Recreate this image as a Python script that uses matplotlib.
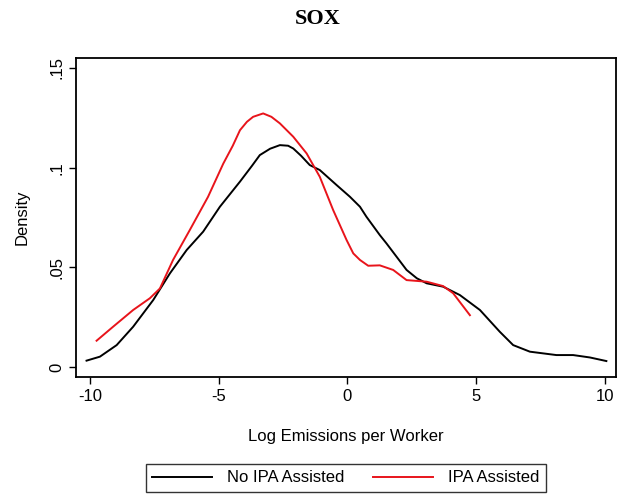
import matplotlib
matplotlib.use("Agg")
import matplotlib.pyplot as plt

# kernel density curves
no_ipa_x = [-10.13, -9.61, -8.96, -8.32, -7.54, -6.89, -6.24, -5.60, -4.95, -4.17,
            -3.70, -3.40, -3.00, -2.62, -2.30, -2.10, -1.80, -1.46, -1.07, -0.42,
            0.10, 0.49, 0.74, 1.26, 1.52, 2.30, 2.70, 3.08, 3.72, 4.37,
            5.15, 5.92, 6.44, 7.09, 8.12, 8.77, 9.42, 10.06]
no_ipa_y = [0.0032, 0.0052, 0.0110, 0.0202, 0.0336, 0.0470, 0.0587, 0.0679, 0.0804, 0.0930,
            0.1010, 0.1063, 0.1095, 0.1113, 0.1110, 0.1096, 0.1060, 0.1013, 0.0988, 0.0913,
            0.0854, 0.0804, 0.0754, 0.0662, 0.0620, 0.0487, 0.0445, 0.0420, 0.0403, 0.0361,
            0.0286, 0.0177, 0.0110, 0.0077, 0.0060, 0.0060, 0.0048, 0.0030]

ipa_x = [-9.74, -9.10, -8.32, -7.67, -7.28, -6.77, -6.12, -5.41, -4.82, -4.45,
         -4.17, -3.90, -3.66, -3.27, -2.95, -2.62, -2.10, -1.58, -1.07, -0.55,
         -0.03, 0.23, 0.49, 0.81, 1.26, 1.78, 2.30, 3.08, 3.72, 4.11, 4.76]
ipa_y = [0.0132, 0.0202, 0.0286, 0.0345, 0.0394, 0.0537, 0.0687, 0.0854, 0.1020, 0.1110,
         0.1188, 0.1230, 0.1255, 0.1272, 0.1255, 0.1222, 0.1155, 0.1071, 0.0954, 0.0787,
         0.0637, 0.0570, 0.0537, 0.0508, 0.0510, 0.0487, 0.0436, 0.0428, 0.0406, 0.0370,
         0.0260]

x_ticks = [-10, -5, 0, 5, 10]
y_ticks = [0, 0.05, 0.1, 0.15]
y_labels = ["0", ".05", ".1", ".15"]

plt.rcParams["font.family"] = ["Liberation Sans", "DejaVu Sans"]

fig = plt.figure(figsize=(6.3, 5), dpi=100)
ax = fig.add_axes([0.1206, 0.246, 0.857, 0.638])

ax.plot(no_ipa_x, no_ipa_y, color="black", lw=1.4, label="No IPA Assisted")
ax.plot(ipa_x, ipa_y, color="#e8141b", lw=1.4, label="IPA Assisted")

ax.set_xlim(-10.54, 10.43)
ax.set_ylim(-0.005, 0.155)
ax.set_xticks(x_ticks)
ax.set_xticklabels([str(t) for t in x_ticks])
ax.set_yticks(y_ticks)
ax.set_yticklabels(y_labels, rotation=90, va="center")
ax.tick_params(direction="out", length=5, width=1, labelsize=12, colors="black")
for s in ax.spines.values():
    s.set_linewidth(1.3)

ax.set_xlabel("Log Emissions per Worker", fontsize=12, labelpad=18)
ax.set_ylabel("Density", fontsize=12, labelpad=14)

fig.text(0.505, 0.963, "SOX", ha="center", va="center", fontsize=16,
         fontweight="bold", family="Liberation Serif")

leg = fig.legend(loc="center", bbox_to_anchor=(0.549, 0.044), ncol=2, fontsize=12,
                 frameon=True, fancybox=False, handlelength=3.6, columnspacing=1.7,
                 borderpad=0.4, handletextpad=0.9)
leg.get_frame().set_edgecolor("black")
leg.get_frame().set_linewidth(1.0)

fig.savefig("out.png", dpi=100)
